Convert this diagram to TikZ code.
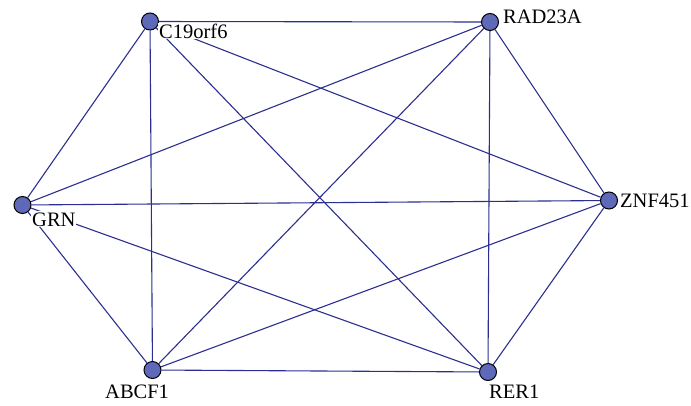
\documentclass[tikz,border=0pt]{standalone}
\usepackage{fontspec}
\setmainfont{Liberation Serif}
\usepackage{xcolor}
\usepackage{tikz}

\definecolor{edgeblue}{RGB}{43,47,143}
\definecolor{nodeblue}{RGB}{95,105,185}

\tikzset{
    gene/.style = {circle, draw = black, line width = 1pt, fill = nodeblue,
                   minimum size = 17pt, inner sep = 0pt},
    link/.style = {edgeblue, line width = 1.1pt},
    genelabel/.style = {fill = white, inner sep = 1pt, anchor = base west,
                   font = \fontsize{20.5}{24}\selectfont}
}

\begin{document}
\begin{tikzpicture}[x = 1pt, y = -1pt]
    \useasboundingbox (0, 0) rectangle (691, 405);

    % 基因节点
    \node[gene] (c19)  at (150, 21.5) {};
    \node[gene] (rad)  at (490, 22)   {};
    \node[gene] (znf)  at (609, 200.5) {};
    \node[gene] (rer)  at (488, 372)  {};
    \node[gene] (abcf) at (152.5, 370) {};
    \node[gene] (grn)  at (22.5, 205) {};

    % 两两相连
    \foreach \a/\b in {c19/rad, c19/znf, c19/rer, c19/abcf, c19/grn,
                       rad/znf, rad/rer, rad/abcf, rad/grn,
                       znf/rer, znf/abcf, znf/grn,
                       rer/abcf, rer/grn,
                       abcf/grn}
        \draw[link] (\a) -- (\b);

    % 标签 (白底盖住连线)
    \node[genelabel] (c19-lab)  at (158, 38)  {C19orf6};
    \node[genelabel] (rad-lab)  at (502, 23)  {RAD23A};
    \node[genelabel] (znf-lab)  at (619, 207) {ZNF451};
    \node[genelabel] (rer-lab)  at (488, 398) {RER1};
    \node[genelabel] (abcf-lab) at (104, 398) {ABCF1};
    \node[genelabel] (grn-lab)  at (31, 226)  {GRN};
\end{tikzpicture}
\end{document}
